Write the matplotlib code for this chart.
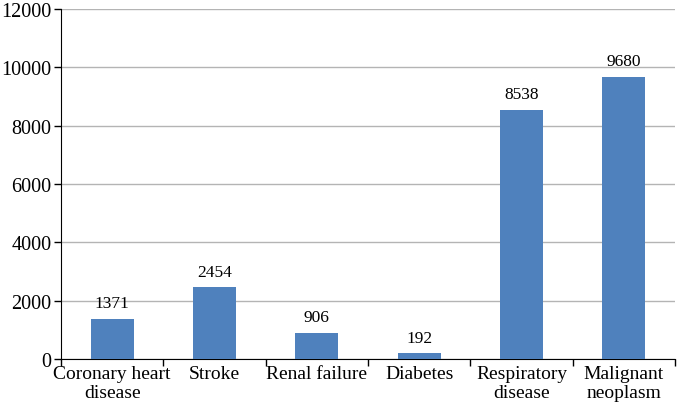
import matplotlib.pyplot as plt
import numpy as np

plt.rcParams['font.family'] = ['Liberation Serif', 'DejaVu Serif']

categories = ["Coronary heart\ndisease", "Stroke", "Renal failure", "Diabetes",
              "Respiratory\ndisease", "Malignant\nneoplasm"]
values = [1371, 2454, 906, 192, 8538, 9680]
yticks = [0, 2000, 4000, 6000, 8000, 10000, 12000]

fig = plt.figure(figsize=(6.77, 4.10), dpi=100)
ax = fig.add_axes([61 / 677, 1 - 360 / 410, 614 / 677, 350 / 410])

x = np.arange(len(categories))
ax.bar(x, values, width=0.42, color='#4F81BD', zorder=3)
for xi, v in zip(x, values):
    ax.text(xi, v + 270, str(v), ha='center', va='bottom', fontsize=12.5)

ax.set_xlim(-0.5, len(categories) - 0.5)
ax.set_ylim(0, 12000)
ax.set_yticks(yticks)
ax.tick_params(axis='y', labelsize=14.5, length=5, width=1, pad=2)

# category labels centred, tick marks at the boundaries
ax.set_xticks(np.arange(len(categories) + 1) - 0.5)
ax.set_xticklabels([])
ax.tick_params(axis='x', length=5, width=1, direction='out')
ax.set_xticks(x, minor=True)
ax.set_xticklabels(categories, minor=True, fontsize=14, linespacing=1.2)
ax.tick_params(axis='x', which='minor', length=0, pad=4)

ax.yaxis.grid(True, color='#b4b4b4', linewidth=1, zorder=0)
ax.spines['top'].set_visible(False)
ax.spines['right'].set_visible(False)

plt.savefig("out.png", dpi=100)
